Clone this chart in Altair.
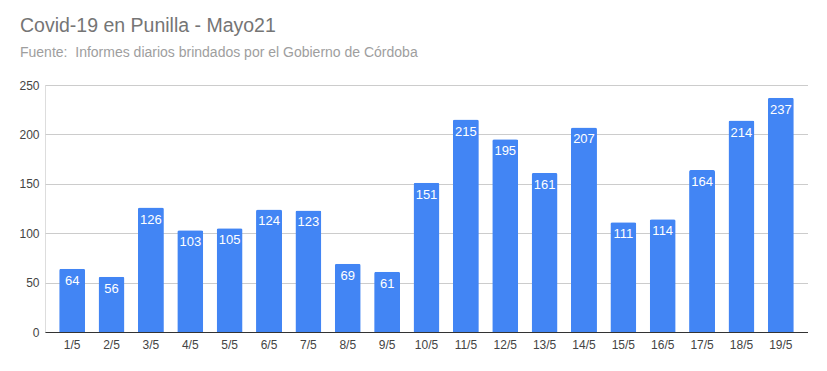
import altair as alt
import pandas as pd

days = ["1/5", "2/5", "3/5", "4/5", "5/5", "6/5", "7/5", "8/5", "9/5", "10/5",
        "11/5", "12/5", "13/5", "14/5", "15/5", "16/5", "17/5", "18/5", "19/5"]
cases = [64, 56, 126, 103, 105, 124, 123, 69, 61, 151,
         215, 195, 161, 207, 111, 114, 164, 214, 237]

df = pd.DataFrame({"dia": days, "casos": cases})

FONT = "Liberation Sans"

x = alt.X("dia:N", sort=days, title=None,
          scale=alt.Scale(paddingInner=0.34, paddingOuter=0.36),
          axis=alt.Axis(labelAngle=0, labelFont=FONT, labelFontSize=12, labelColor="#444444",
                        domainColor="#333333", ticks=False, labelPadding=7, grid=False))
y = alt.Y("casos:Q", title=None,
          scale=alt.Scale(domain=[0, 250], nice=False),
          axis=alt.Axis(values=[0, 50, 100, 150, 200, 250], labelFont=FONT, labelFontSize=12,
                        labelColor="#444444", domain=False, ticks=False, labelPadding=6,
                        gridColor="#cccccc"))

bars = alt.Chart(df).mark_bar(color="#4285F4", cornerRadiusTopLeft=2, cornerRadiusTopRight=2).encode(x=x, y=y)
labels = alt.Chart(df).mark_text(color="white", baseline="top", dy=6, font=FONT, fontSize=13).encode(
    x=alt.X("dia:N", sort=days), y="casos:Q", text="casos:Q")

chart = (bars + labels).properties(
    width=763, height=247,
    autosize=alt.AutoSizeParams(type="none"),
    padding={"left": 37, "top": 77, "right": 0, "bottom": 39},
    title=alt.TitleParams(
        text="Covid-19 en Punilla - Mayo21",
        subtitle="Fuente:\u00a0 Informes diarios brindados por el Gobierno de Córdoba",
        anchor="start", frame="group", dx=-25, offset=18,
        font=FONT, fontSize=19.5, fontWeight="normal", color="#757575",
        subtitleFont=FONT, subtitleFontSize=14, subtitleColor="#9e9e9e", subtitlePadding=10),
).configure_view(stroke=None).configure(background="white")

chart.save("out.html", embed_options={"renderer": "svg", "actions": False})
